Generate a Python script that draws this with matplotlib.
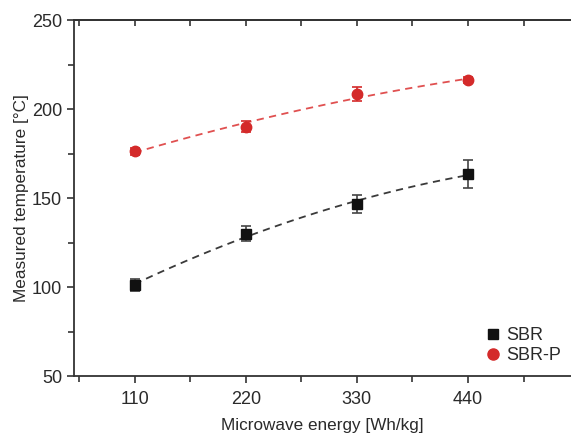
import numpy as np
import matplotlib
matplotlib.use("Agg")
import matplotlib.pyplot as plt
from matplotlib.ticker import MultipleLocator
from matplotlib.lines import Line2D

plt.rcParams['font.family'] = ['Liberation Sans', 'DejaVu Sans']

energy = [110, 220, 330, 440]
sbr = [101, 130, 146.5, 163.5]
sbr_err = [3.5, 4, 5, 8]
sbrp = [176.3, 190, 208.4, 216.3]
sbrp_err = [2, 3, 4, 1.5]

fig = plt.figure(figsize=(5.71, 4.36), dpi=100)
ax = fig.add_axes([0.1296, 0.1376, 0.8704, 0.8165])

red = '#d42a2a'
black = '#111111'
txt = '#2a2a2a'

xs = np.linspace(110, 440, 100)
for y, c in [(sbr, '#3a3a3a'), (sbrp, '#e05050')]:
    p = np.polyfit(energy, y, 2)
    ax.plot(xs, np.polyval(p, xs), ls=(0, (4, 3)), color=c, lw=1.3, zorder=1)

ax.errorbar(energy, sbr, yerr=sbr_err, fmt='s', color=black, ms=7,
            ecolor='#444444', elinewidth=1.2, capsize=3.5, capthick=1.2,
            zorder=3)
ax.errorbar(energy, sbrp, yerr=sbrp_err, fmt='o', color=red, ms=7.5,
            ecolor=red, elinewidth=1.2, capsize=3.5, capthick=1.2,
            zorder=3)

ax.set_xlim(50, 542)
ax.set_ylim(50, 250)
ax.set_xticks(energy)
ax.xaxis.set_minor_locator(MultipleLocator(55))
ax.yaxis.set_major_locator(MultipleLocator(50))
ax.yaxis.set_minor_locator(MultipleLocator(25))

for s in ['left', 'bottom', 'top']:
    ax.spines[s].set_color('#333333')
    ax.spines[s].set_linewidth(1.3)
ax.spines['right'].set_visible(False)

ax.tick_params(axis='both', which='both', color='#333333', width=1.2,
               labelsize=13, labelcolor=txt, direction='out')
ax.tick_params(axis='both', which='major', length=5)
ax.tick_params(axis='both', which='minor', length=4)
ax.tick_params(axis='x', which='both', pad=6)

top = ax.secondary_xaxis('top')
top.set_xticks(energy)
top.xaxis.set_minor_locator(MultipleLocator(55))
top.tick_params(axis='x', which='both', direction='in', length=4, width=1.2,
                color='#333333', labeltop=False)
top.spines['top'].set_color('#333333')
top.spines['top'].set_linewidth(1.3)

ax.set_xlabel('Microwave energy [Wh/kg]', fontsize=12.3, color=txt, labelpad=7)
ax.set_ylabel('Measured temperature [°C]', fontsize=12.3, color=txt, labelpad=2)

handles = [
    Line2D([], [], ls='none', marker='s', color=black, ms=6.5),
    Line2D([], [], ls='none', marker='o', color=red, ms=8),
]
leg = ax.legend(handles, ['SBR', 'SBR-P'], loc='lower right',
                bbox_to_anchor=(1.005, -0.003), frameon=False,
                fontsize=13, handletextpad=0.2, labelspacing=0.2,
                handlelength=1.0, borderaxespad=0.3)
for t in leg.get_texts():
    t.set_color(txt)

fig.savefig('out.png', dpi=100)
